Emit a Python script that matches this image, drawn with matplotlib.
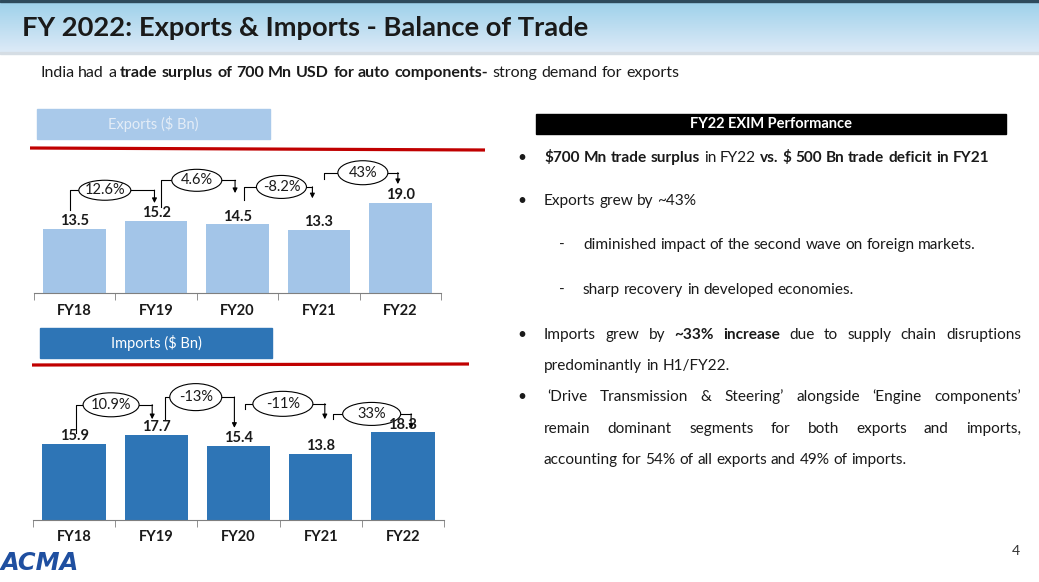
import numpy as np
import matplotlib
matplotlib.use("Agg")
import matplotlib.pyplot as plt
from matplotlib.patches import Rectangle, Ellipse

plt.rcParams['font.family'] = ['Lato', 'DejaVu Sans']

### chart data
years = ["FY18", "FY19", "FY20", "FY21", "FY22"]
exports = [13.5, 15.2, 14.5, 13.3, 19.0]
imports = [15.9, 17.7, 15.4, 13.8, 18.3]
exp_growth = ["12.6%", "4.6%", "-8.2%", "43%"]
imp_growth = ["10.9%", "-13%", "-11%", "33%"]

title = "FY 2022: Exports & Imports - Balance of Trade"
subtitle = [("India had a", "normal"),
            ("trade surplus of 700 Mn USD for auto components-", "bold"),
            ("strong demand for exports", "normal")]

W, H = 1039, 582
fig = plt.figure(figsize=(W / 100, H / 100), dpi=100)
ov = fig.add_axes([0, 0, 1, 1])
ov.set_xlim(0, W)
ov.set_ylim(H, 0)
ov.axis('off')
renderer = fig.canvas.get_renderer()
TXT = '#1a1a1a'


def measure(s, size, weight='normal', **kw):
    t = ov.text(0, 0, s, fontsize=size, fontweight=weight, **kw)
    w = t.get_window_extent(renderer).width
    t.remove()
    return w


def line_width(runs, size):
    words = [(w, wt) for s, wt in runs for w in s.split()]
    space = measure('a a', size) - measure('aa', size)
    return sum(measure(w, size, wt) for w, wt in words) + space * (len(words) - 1)


def fit_size(runs, target, base=10.0):
    return base * target / line_width(runs, base)


def put_line(x, y, runs, size, right=None, color=TXT):
    words = [(w, wt) for s, wt in runs for w in s.split()]
    widths = [measure(w, size, wt) for w, wt in words]
    gap = measure('a a', size) - measure('aa', size)
    if right is not None and len(words) > 1:
        gap = (right - x - sum(widths)) / (len(words) - 1)
    cx = x
    for (w, wt), wd in zip(words, widths):
        ov.text(cx, y, w, fontsize=size, fontweight=wt, va='center', ha='left', color=color)
        cx += wd + gap


### header band
grad = np.linspace(0, 1, 50)[:, None, None]
top_c = np.array([0.62, 0.82, 0.92])
bot_c = np.array([0.87, 0.92, 0.97])
ov.imshow(top_c + (bot_c - top_c) * grad, extent=[0, W, 53, 2], aspect='auto', zorder=0)
ov.add_patch(Rectangle((0, 0), W, 2, color='#2d4a5c', zorder=1))
ov.add_patch(Rectangle((0, 52), W, 2, color='#d5dde4', zorder=1))
ts = fit_size([(title, 'bold')], 572)
ov.text(22, 28, title, fontsize=ts, fontweight='bold', va='center', ha='left', color=TXT, zorder=2)

ss = fit_size(subtitle, 641)
put_line(40, 73, subtitle, ss)

### section labels and red rules
ov.add_patch(Rectangle((37, 109), 233, 30, color='#a9c9ea'))
ov.text(153, 124, "Exports ($ Bn)", fontsize=10.5, color='#e4edf7', ha='center', va='center')
ov.plot([30, 485], [148, 150], color='#c00000', lw=2.3, solid_capstyle='butt')

ov.add_patch(Rectangle((40, 328), 232, 30, color='#2e75b6'))
ov.text(156, 343, "Imports ($ Bn)", fontsize=10.5, color='white', ha='center', va='center')
ov.plot([32, 469], [365, 364], color='#c00000', lw=2.3, solid_capstyle='butt')


### bar charts
def bar_chart(rect_px, ymax, values, color, growth, conns, pad):
    x0, ytop, x1, ybase = rect_px
    ax = fig.add_axes([x0 / W, (H - ybase) / H, (x1 - x0) / W, (ybase - ytop) / H])
    ax.set_facecolor('none')
    xs = np.arange(len(values))
    ax.bar(xs, values, width=0.77, color=color, zorder=1)
    ax.set_xlim(-0.5, len(values) - 0.5)
    ax.set_ylim(0, ymax)
    for s in ['top', 'right', 'left']:
        ax.spines[s].set_visible(False)
    ax.spines['bottom'].set_color('#7f7f7f')
    ax.set_yticks([])
    ax.set_xticks(xs)
    ax.set_xticklabels(years, fontsize=10.5, fontweight='bold', color=TXT)
    ax.set_xticks(np.arange(-0.5, len(values), 1), minor=True)
    ax.tick_params(which='major', length=0, pad=pad)
    ax.tick_params(which='minor', length=5, color='#7f7f7f')
    for x, v in zip(xs, values):
        ax.annotate(f"{v:.1f}", (x, v), xytext=(0, 5.5), textcoords='offset points',
                    ha='center', va='center', fontsize=10.5, fontweight='bold', color=TXT, zorder=5)
    px_x = (x1 - x0) / len(values)
    px_y = (ybase - ytop) / ymax
    for lab, (xa, ya, yt, xb, yb, ex, ew, eh) in zip(growth, conns):
        ax.plot([xa, xa, xb], [ya, yt, yt], color='k', lw=0.8, zorder=2, clip_on=False)
        ax.annotate('', xy=(xb, yb), xytext=(xb, yt + 0.02),
                    arrowprops=dict(arrowstyle='-|>', color='k', lw=0.8, mutation_scale=7,
                                    shrinkA=0, shrinkB=0), zorder=2)
        ax.add_patch(Ellipse((ex, yt), ew / px_x, eh / px_y, facecolor='white',
                             edgecolor='k', lw=0.8, zorder=3, clip_on=False))
        ax.text(ex, yt, lab, fontsize=10.5, ha='center', va='center', color=TXT, zorder=4)
    return ax


# connector layout: x start, y start, bracket level, x end, arrow end, ellipse x, ellipse w/h (px)
exp_conns = [(-0.06, 17.5, 21.7, 0.98, 19.0, 0.37, 52, 20),
             (1.06, 18.1, 23.8, 1.97, 21.1, 1.50, 50, 22),
             (2.08, 19.6, 22.4, 2.92, 20.0, 2.54, 50, 23),
             (3.06, 24.0, 25.4, 3.97, 23.0, 3.54, 50, 24)]
imp_conns = [(0.02, 18.1, 24.0, 0.95, 21.0, 0.45, 56, 24),
             (1.10, 20.8, 25.6, 1.95, 19.2, 1.48, 52, 27),
             (2.08, 23.1, 24.2, 3.05, 21.0, 2.54, 60, 25),
             (3.15, 21.0, 22.1, 4.10, 19.0, 3.62, 58, 23)]

bar_chart((34, 150, 441, 293), 30.2, exports, '#a3c5e8', exp_growth, exp_conns, 8)
bar_chart((33, 370, 444, 520), 31.25, imports, '#2e75b6', imp_growth, imp_conns, 7.5)

### right text panel
ov.add_patch(Rectangle((536, 114), 470, 20, color='black'))
ov.text(771, 124.5, "FY22 EXIM Performance", color='white', fontsize=10.5, fontweight='bold',
        ha='center', va='center')

body = fit_size([("accounting for 54% of all exports and 49% of imports.", 'normal')], 364)
bullet_x, text_x, dash_x, sub_x = 522, 544, 562, 583
for yb in [158, 201, 335, 397]:
    ov.text(bullet_x, yb, u"\u2022", fontsize=body, ha='center', va='center', color=TXT)
for yd in [245, 290]:
    ov.text(dash_x, yd, "-", fontsize=body, ha='center', va='center', color=TXT)

put_line(text_x, 158, [("$700 Mn trade surplus", 'bold'), ("in FY22", 'normal'),
                       ("vs. $ 500 Bn trade deficit in FY21", 'bold')], body)
put_line(text_x, 201, [("Exports grew by ~43%", 'normal')], body)
put_line(sub_x, 245, [("diminished impact of the second wave on foreign markets.", 'normal')], body)
put_line(sub_x, 290, [("sharp recovery in developed economies.", 'normal')], body)
put_line(text_x, 335, [("Imports grew by", 'normal'), ("~33% increase", 'bold'),
                       ("due to supply chain disruptions", 'normal')], body, right=1021)
put_line(text_x, 366, [("predominantly in H1/FY22.", 'normal')], body)
put_line(547, 397, [(u"\u2018Drive Transmission & Steering\u2019 alongside \u2018Engine components\u2019", 'normal')],
         body, right=1021)
put_line(text_x, 429, [("remain dominant segments for both exports and imports,", 'normal')], body, right=1021)
put_line(text_x, 460, [("accounting for 54% of all exports and 49% of imports.", 'normal')], body)

### footer
logo_size = 10 * 78 / measure("ACMA", 10, 'heavy', style='italic', family='DejaVu Sans')
ov.text(1, 563, "ACMA", fontsize=logo_size, fontweight='heavy',
        style='italic', color='#1f4fa0', ha='left', va='center', family='DejaVu Sans')
ov.text(1016, 551, "4", fontsize=10, color='#333333', ha='center', va='center')

fig.savefig("out.png", dpi=100)
